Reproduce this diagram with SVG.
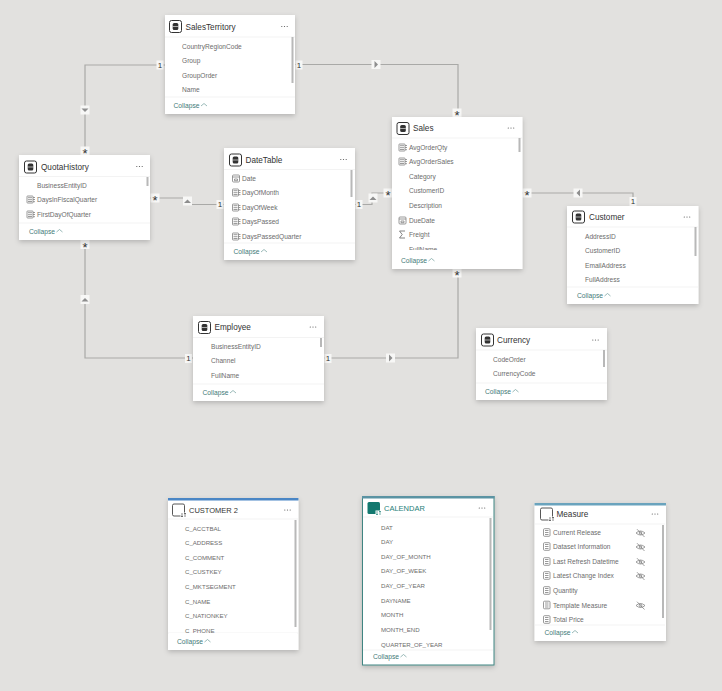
<svg xmlns="http://www.w3.org/2000/svg" xmlns:xlink="http://www.w3.org/1999/xlink" width="722" height="691" viewBox="0 0 722 691">
<style>
text{font-family:"Liberation Sans","Noto Sans",Arial,sans-serif}
.card{fill:#fff;filter:url(#sh)}
.t{font-size:8.200px;fill:#333;dominant-baseline:central}
.f{font-size:6.600px;fill:#6c6c6c;dominant-baseline:central}
.caps .f{font-size:6.100px}
.caps .t{font-size:7.500px}
.c{font-size:6.700px;fill:#3f7a78;dominant-baseline:central}
.div{stroke:#f3f3f3;stroke-width:1}
.sb{fill:#b8b8b8}
.ln{fill:none;stroke:#a9a9a7;stroke-width:1.200}
.k{font-size:8px;fill:#333;text-anchor:middle;dominant-baseline:central}
.s{font-size:13px;fill:#333;text-anchor:middle;dominant-baseline:central}
.tri{fill:#8e8e8e}
.ic{fill:none;stroke:#808080;stroke-width:.8}
</style>
<defs>
<filter id="sh" x="-15%" y="-15%" width="130%" height="130%"><feDropShadow dx="0" dy="2" stdDeviation="2.500" flood-color="#000" flood-opacity=".2"/></filter>
<g id="tbl"><rect x="0" y="0" width="12" height="12" rx="2" fill="#fff" stroke="#333" stroke-width="1"/><rect x="3.200" y="2.600" width="5.600" height="6.800" rx="1.500" fill="#333"/><path d="M3.200 6H8.800" stroke="#fff" stroke-width=".6"/></g>
<g id="dots" fill="#555"><circle cx="-2.700" cy="0" r=".6"/><circle cx="0" cy="0" r=".6"/><circle cx="2.700" cy="0" r=".6"/></g>
<polyline id="chev" points="0,2.500 3,0 6,2.500" fill="none" stroke="#6f9c9a" stroke-width=".7"/>
<g id="mc" class="ic"><rect x="0" y="-3.500" width="6" height="7" rx=".6"/><path d="M1-1.800H5M1 .2H5M1 2H5M6 0H8M6 2.200H8M6-2H8"/></g>
<g id="cal" class="ic"><rect x="0" y="-3.500" width="7" height="7" rx="1"/><path d="M0-1.500H7M2 .5H5V2.200H2Z"/></g>
<g id="sig"><path d="M6-3.500H0.500L3.200 0 .5 3.500H6" fill="none" stroke="#666" stroke-width=".8"/></g>
<g id="ms" class="ic"><rect x="0" y="-3.800" width="6.500" height="7.600" rx="1"/><path d="M1.500-2H5M1.500 0H5M1.500 2H5"/></g>
<g id="eye" fill="none" stroke="#777" stroke-width=".7"><path d="M-4.500 0Q0-4 4.500 0Q0 4-4.500 0Z"/><circle r="1.300"/><path d="M-3.500-3.800L4 4"/></g>
<g id="dtb"><rect x="0" y="0" width="12" height="12" rx="1.500" fill="#fff" stroke="#444" stroke-width=".9"/><rect x="8" y="8.500" width="6" height="5" fill="#fff"/><path d="M9.500 9V13M8.500 12L9.500 13L10.500 12M12.500 13V9M11.500 10L12.500 9L13.500 10" fill="none" stroke="#333" stroke-width=".6"/></g>
<g id="dtc"><rect x="0" y="0" width="12.500" height="12" rx="1.500" fill="#13786f"/><rect x="8" y="8.500" width="6" height="5" fill="#fff"/><path d="M9.500 9V13M8.500 12L9.500 13L10.500 12M12.500 13V9M11.500 10L12.500 9L13.500 10" fill="none" stroke="#13786f" stroke-width=".6"/></g>
<rect id="b1" x="-3.500" y="-4.500" width="7" height="9" fill="#f7f7f6"/>
<rect id="b2" x="-4.500" y="-4.500" width="9" height="9" fill="#f7f7f6"/>
</defs>
<rect width="722" height="691" fill="#e2e1df"/>

<g id="connectors">
<path class="ln" d="M165 65H85V155"/>
<path class="ln" d="M295 64.500H458V117"/>
<path class="ln" d="M150 198H186V204.500H224"/>
<path class="ln" d="M355 204.500H372V193H392"/>
<path class="ln" d="M522 193H633V206"/>
<path class="ln" d="M85 240V358H193"/>
<path class="ln" d="M324 358H458V269"/>
<g>
<use href="#b1" x="160" y="65"/><text class="k" x="160" y="65">1</text>
<use href="#b2" x="85" y="151"/><text class="s" x="85" y="153.500">*</text>
<use href="#b2" x="85" y="110"/><path class="tri" d="M81.500 108.500H88.500L85 112Z"/>
<use href="#b1" x="299" y="65"/><text class="k" x="299" y="65">1</text>
<use href="#b2" x="376" y="64.500"/><path class="tri" d="M374.500 61V68L378 64.500Z"/>
<use href="#b2" x="457" y="113"/><text class="s" x="457" y="115.500">*</text>
<use href="#b2" x="155" y="198"/><text class="s" x="155" y="200.500">*</text>
<use href="#b2" x="187.500" y="201"/><path class="tri" d="M184 203H191L187.500 199.500Z"/>
<use href="#b1" x="220" y="204.500"/><text class="k" x="220" y="204.500">1</text>
<use href="#b1" x="359" y="204.500"/><text class="k" x="359" y="204.500">1</text>
<use href="#b2" x="373" y="198"/><path class="tri" d="M369.500 200H376.500L373 196.500Z"/>
<use href="#b2" x="388" y="193"/><text class="s" x="388" y="195.500">*</text>
<use href="#b2" x="527" y="193"/><text class="s" x="527" y="195.500">*</text>
<use href="#b2" x="578" y="193"/><path class="tri" d="M580 189.500V196.500L576.500 193Z"/>
<use href="#b1" x="633" y="201.500"/><text class="k" x="633" y="201.500">1</text>
<use href="#b2" x="85" y="244.500"/><text class="s" x="85" y="247">*</text>
<use href="#b2" x="85" y="299.500"/><path class="tri" d="M81.500 301.500H88.500L85 298Z"/>
<use href="#b1" x="188.500" y="358.500"/><text class="k" x="188.500" y="358.500">1</text>
<use href="#b1" x="328" y="358.500"/><text class="k" x="328" y="358.500">1</text>
<use href="#b2" x="390.500" y="358"/><path class="tri" d="M389 354.500V361.500L392.500 358Z"/>
<use href="#b2" x="457" y="273"/><text class="s" x="457" y="275.500">*</text>
</g>
</g>

<g id="node-salesterritory">
<rect class="card" x="165" y="15" width="130" height="99"/>
<use href="#tbl" x="169.500" y="20.500"/><text class="t" x="185.500" y="27">SalesTerritory</text><use href="#dots" x="284.500" y="26.500"/>
<path class="div" d="M165 37H295M165 97H295"/><rect class="sb" x="291.500" y="37" width="2" height="46"/>
<text class="f" x="182" y="46.500">CountryRegionCode</text><text class="f" x="182" y="60.500">Group</text><text class="f" x="182" y="75.500">GroupOrder</text><text class="f" x="182" y="89.500">Name</text>
<text class="c" x="173.500" y="105.500">Collapse</text><use href="#chev" x="201" y="103.500"/>
</g>

<g id="node-quotahistory">
<rect class="card" x="19" y="155" width="131" height="85"/>
<use href="#tbl" x="24.500" y="161"/><text class="t" x="41" y="167">QuotaHistory</text><use href="#dots" x="139.500" y="166.500"/>
<path class="div" d="M19 176.500H150M19 223H150"/><rect class="sb" x="146.500" y="177" width="2" height="9"/>
<text class="f" x="37" y="185.500">BusinessEntityID</text>
<use href="#mc" x="27" y="199.500"/><text class="f" x="37" y="199.500">DaysInFiscalQuarter</text>
<use href="#mc" x="27" y="214.500"/><text class="f" x="37" y="214.500">FirstDayOfQuarter</text>
<text class="c" x="29" y="231.500">Collapse</text><use href="#chev" x="56.500" y="229.500"/>
</g>

<g id="node-datetable">
<rect class="card" x="224" y="148" width="131" height="112"/>
<use href="#tbl" x="229.500" y="154"/><text class="t" x="245.500" y="160">DateTable</text><use href="#dots" x="343.500" y="159.500"/>
<path class="div" d="M224 169.500H355M224 243H355"/><rect class="sb" x="350.500" y="170" width="2" height="27"/>
<use href="#cal" x="232.500" y="178.500"/><text class="f" x="242" y="178.500">Date</text>
<use href="#mc" x="232.500" y="192.500"/><text class="f" x="242" y="192.500">DayOfMonth</text>
<use href="#mc" x="232.500" y="207.500"/><text class="f" x="242" y="207.500">DayOfWeek</text>
<use href="#mc" x="232.500" y="221.500"/><text class="f" x="242" y="221.500">DaysPassed</text>
<use href="#mc" x="232.500" y="236.500"/><text class="f" x="242" y="236.500">DaysPassedQuarter</text>
<text class="c" x="233.500" y="251.500">Collapse</text><use href="#chev" x="261" y="249.500"/>
</g>

<g id="node-sales">
<rect class="card" x="392" y="117" width="130.500" height="152"/>
<use href="#tbl" x="397" y="122.500"/><text class="t" x="413" y="128.500">Sales</text><use href="#dots" x="511" y="128"/>
<path class="div" d="M392 138H522"/><rect class="sb" x="518.500" y="138" width="2" height="14"/>
<use href="#mc" x="399" y="147.500"/><text class="f" x="409" y="147.500">AvgOrderQty</text>
<use href="#mc" x="399" y="161.500"/><text class="f" x="409" y="161.500">AvgOrderSales</text>
<text class="f" x="409" y="176.500">Category</text><text class="f" x="409" y="190.500">CustomerID</text><text class="f" x="409" y="205.500">Description</text>
<use href="#cal" x="399" y="220.500"/><text class="f" x="409" y="220.500">DueDate</text>
<use href="#sig" x="399" y="234.500"/><text class="f" x="409" y="234.500">Freight</text>
<text class="f" x="409" y="249.500">FullName</text><rect x="393" y="250" width="128" height="18" fill="#fff"/>
<text class="c" x="401" y="260.500">Collapse</text><use href="#chev" x="428.500" y="258.500"/>
</g>

<g id="node-customer">
<rect class="card" x="567" y="206" width="131.500" height="98"/>
<use href="#tbl" x="572.500" y="211"/><text class="t" x="589" y="217.500">Customer</text><use href="#dots" x="687" y="217"/>
<path class="div" d="M567 227H698M567 287H698"/><rect class="sb" x="694.500" y="227" width="2" height="29"/>
<text class="f" x="585" y="236.500">AddressID</text><text class="f" x="585" y="250.500">CustomerID</text><text class="f" x="585" y="265.500">EmailAddress</text><text class="f" x="585" y="279.500">FullAddress</text>
<text class="c" x="577" y="295.500">Collapse</text><use href="#chev" x="604.500" y="293.500"/>
</g>

<g id="node-currency">
<rect class="card" x="476" y="328" width="131" height="72"/>
<use href="#tbl" x="481.500" y="334"/><text class="t" x="497" y="340.500">Currency</text><use href="#dots" x="595.500" y="340"/>
<path class="div" d="M476 350H607M476 383H607"/><rect class="sb" x="603" y="350" width="2" height="17"/>
<text class="f" x="493" y="359.500">CodeOrder</text><text class="f" x="493" y="373.500">CurrencyCode</text>
<text class="c" x="485" y="391.500">Collapse</text><use href="#chev" x="512.500" y="389.500"/>
</g>

<g id="node-employee">
<rect class="card" x="193" y="316" width="131" height="85"/>
<use href="#tbl" x="198.500" y="321.500"/><text class="t" x="214.500" y="327.500">Employee</text><use href="#dots" x="313" y="327"/>
<path class="div" d="M193 337.500H324M193 384H324"/><rect class="sb" x="320" y="338" width="2" height="9"/>
<text class="f" x="211" y="346.500">BusinessEntityID</text><text class="f" x="211" y="360.500">Channel</text><text class="f" x="211" y="375.500">FullName</text>
<text class="c" x="202.500" y="392.500">Collapse</text><use href="#chev" x="230" y="390.500"/>
</g>

<g id="node-customer2" class="caps">
<rect class="card" x="168" y="498" width="130.500" height="152"/>
<rect x="168" y="498" width="130.500" height="2.500" fill="#4a86c5"/>
<use href="#dtb" x="172.500" y="504"/><text class="t" x="189" y="510">CUSTOMER 2</text><use href="#dots" x="287.500" y="510"/>
<path class="div" d="M168 519H298M168 633H298"/><rect class="sb" x="294.500" y="520" width="2" height="107"/>
<text class="f" x="185" y="528.500">C_ACCTBAL</text><text class="f" x="185" y="542.500">C_ADDRESS</text><text class="f" x="185" y="557.500">C_COMMENT</text><text class="f" x="185" y="571.500">C_CUSTKEY</text><text class="f" x="185" y="586.500">C_MKTSEGMENT</text><text class="f" x="185" y="601.500">C_NAME</text><text class="f" x="185" y="615.500">C_NATIONKEY</text><text class="f" x="185" y="630.500">C_PHONE</text>
<rect x="169" y="633" width="128" height="16" fill="#fff"/>
<text class="c" x="177" y="641.500">Collapse</text><use href="#chev" x="204.500" y="639.500"/>
</g>

<g id="node-calendar" class="caps">
<rect class="card" x="362.500" y="496.500" width="131.500" height="168.500" style="stroke:#3f8582;stroke-width:1"/>
<rect x="362" y="496" width="132.500" height="2.500" fill="#5b93a3"/>
<use href="#dtc" x="367.500" y="502"/><text class="t" x="384" y="508" style="fill:#27807a">CALENDAR</text><use href="#dots" x="482" y="508"/>
<path class="div" d="M363 517H493M363 650H493"/><rect class="sb" x="489.500" y="518" width="2" height="112"/>
<text class="f" x="381" y="527.500">DAT</text><text class="f" x="381" y="541.500">DAY</text><text class="f" x="381" y="556.500">DAY_OF_MONTH</text><text class="f" x="381" y="570.500">DAY_OF_WEEK</text><text class="f" x="381" y="585.500">DAY_OF_YEAR</text><text class="f" x="381" y="600.500">DAYNAME</text><text class="f" x="381" y="614.500">MONTH</text><text class="f" x="381" y="629.500">MONTH_END</text><text class="f" x="381" y="644.500">QUARTER_OF_YEAR</text>
<text class="c" x="373" y="656.500">Collapse</text><use href="#chev" x="400.500" y="654.500"/>
</g>

<g id="node-measure">
<rect class="card" x="534.500" y="503" width="131.500" height="138"/>
<rect x="534.500" y="503" width="131.500" height="2.500" fill="#6aa3bd"/>
<use href="#dtb" x="540.500" y="508"/><text class="t" x="556.500" y="514.500">Measure</text><use href="#dots" x="655" y="514"/>
<path class="div" d="M535 524H665M535 625H665"/><rect class="sb" x="662" y="525" width="2" height="93"/>
<use href="#ms" x="543.500" y="532.500"/><text class="f" x="553" y="532.500">Current Release</text><use href="#eye" x="640.500" y="533"/>
<use href="#ms" x="543.500" y="546.500"/><text class="f" x="553" y="546.500">Dataset Information</text><use href="#eye" x="640.500" y="547"/>
<use href="#ms" x="543.500" y="561.500"/><text class="f" x="553" y="561.500">Last Refresh Datetime</text><use href="#eye" x="640.500" y="562"/>
<use href="#ms" x="543.500" y="575.500"/><text class="f" x="553" y="575.500">Latest Change Index</text><use href="#eye" x="640.500" y="576"/>
<use href="#ms" x="543.500" y="590.500"/><text class="f" x="553" y="590.500">Quantity</text>
<use href="#ms" x="543.500" y="605"/><text class="f" x="553" y="605">Template Measure</text><use href="#eye" x="640.500" y="605.500"/>
<use href="#ms" x="543.500" y="619.500"/><text class="f" x="553" y="619.500">Total Price</text>
<text class="c" x="544.500" y="632.500">Collapse</text><use href="#chev" x="572" y="630.500"/>
</g>
</svg>
